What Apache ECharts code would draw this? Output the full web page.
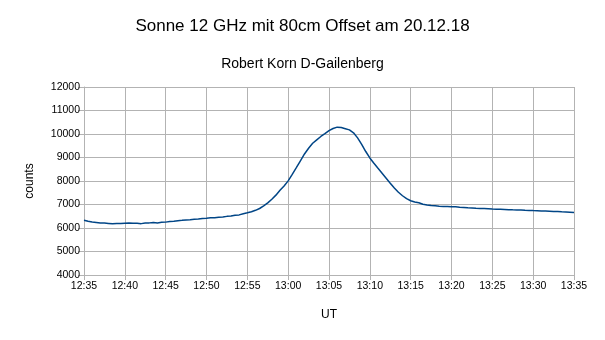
<!DOCTYPE html>
<html>
<head>
<meta charset="utf-8">
<script src="https://cdn.jsdelivr.net/npm/echarts@6/dist/echarts.min.js"></script>
<style>
  html, body { margin: 0; padding: 0; background: #fff; }
  #chart { width: 605px; height: 340px; }
</style>
</head>
<body>
<div id="chart"></div>
<script>
// Sun transit at 12 GHz, 80 cm offset dish, sampled every 30 s from 12:35 UT
const titleText = 'Sonne 12 GHz mit 80cm Offset am 20.12.18';
const subtitleText = 'Robert Korn D-Gailenberg';
const xAxisName = 'UT';
const yAxisName = 'counts';
const startMinutes = 12 * 60 + 35;   // 12:35 UT
const sampleStepMin = 0.5;           // one reading every 30 s
const counts = [
  6330, 6290, 6255, 6235, 6215, 6212, 6195, 6178, 6192, 6196,
  6205, 6212, 6198, 6204, 6186, 6212, 6218, 6232, 6215, 6242,
  6250, 6272, 6288, 6312, 6325, 6345, 6348, 6372, 6380, 6405,
  6418, 6432, 6438, 6462, 6468, 6495, 6508, 6545, 6558, 6605,
  6648, 6695, 6752, 6830, 6942, 7070, 7225, 7398, 7605, 7790,
  8005, 8280, 8565, 8860, 9150, 9395, 9605, 9750, 9895, 10015,
  10140, 10235, 10292, 10275, 10225, 10175, 10050, 9835, 9560, 9255,
  8980, 8755, 8540, 8330, 8120, 7905, 7700, 7520, 7372, 7248,
  7160, 7105, 7072, 7010, 6982, 6955, 6942, 6928, 6918, 6912,
  6900, 6905, 6882, 6872, 6858, 6852, 6838, 6832, 6828, 6822,
  6810, 6802, 6798, 6792, 6778, 6772, 6768, 6762, 6752, 6748,
  6740, 6735, 6728, 6722, 6712, 6702, 6700, 6688, 6682, 6672,
  6660
];
const xMin = 0, xMax = 60, xStep = 5;
const yMin = 4000, yMax = 12000, yStep = 1000;

function fmtTime(offsetMin) {
  const t = startMinutes + offsetMin;
  const h = Math.floor(t / 60), m = Math.round(t % 60);
  return h + ':' + String(m).padStart(2, '0');
}

const seriesData = counts.map((v, i) => [i * sampleStepMin, v]);

const font = '"Liberation Sans", Arial, sans-serif';
const gridColor = '#b3b3b3';

const chart = echarts.init(document.getElementById('chart'), null, { renderer: 'canvas' });
chart.setOption({
  animation: false,
  backgroundColor: '#ffffff',
  title: [
    { text: titleText, left: 'center', top: 13,
      textStyle: { fontFamily: font, fontSize: 17, fontWeight: 'normal', color: '#000' } },
    { text: subtitleText, left: 'center', top: 52,
      textStyle: { fontFamily: font, fontSize: 14, fontWeight: 'normal', color: '#000' } }
  ],
  grid: { left: 84, right: 31, top: 87, bottom: 65, containLabel: false },
  xAxis: {
    type: 'value', min: xMin, max: xMax, interval: xStep,
    name: xAxisName, nameLocation: 'middle', nameGap: 34,
    nameTextStyle: { fontFamily: font, fontSize: 12, color: '#000' },
    axisLine: { show: true, lineStyle: { color: gridColor, width: 1 } },
    axisTick: { show: true, length: 5, lineStyle: { color: gridColor } },
    axisLabel: { formatter: fmtTime, fontFamily: font, fontSize: 10.5, color: '#000', margin: 6 },
    splitLine: { show: true, lineStyle: { color: gridColor, width: 1 } }
  },
  yAxis: {
    type: 'value', min: yMin, max: yMax, interval: yStep,
    name: yAxisName, nameLocation: 'middle', nameGap: 48, nameRotate: 90,
    nameTextStyle: { fontFamily: font, fontSize: 12, color: '#000' },
    axisLine: { show: true, lineStyle: { color: gridColor, width: 1 } },
    axisTick: { show: true, length: 6, lineStyle: { color: gridColor } },
    axisLabel: { formatter: v => String(v), fontFamily: font, fontSize: 10.5, color: '#000', margin: 4 },
    splitLine: { show: true, lineStyle: { color: gridColor, width: 1 } }
  },
  series: [{
    type: 'line',
    data: seriesData,
    showSymbol: false,
    smooth: false,
    lineStyle: { color: '#004586', width: 1.5 },
    itemStyle: { color: '#004586' }
  }]
});
</script>
</body>
</html>
